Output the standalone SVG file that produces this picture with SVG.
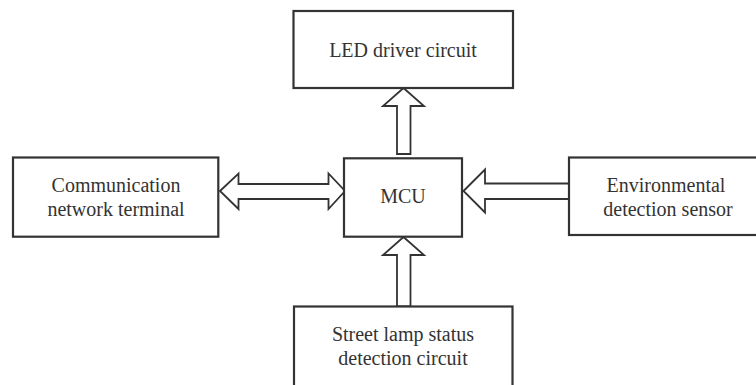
<svg xmlns="http://www.w3.org/2000/svg" width="756" height="385" viewBox="0 0 756 385">
<style>
.box{fill:#fff;stroke:#333;stroke-width:2.2}
.arr{fill:#fff;stroke:#333;stroke-width:1.8;stroke-linejoin:miter}
.t{font-family:"Liberation Serif","Times New Roman",serif;font-size:20px;fill:#333;text-anchor:middle}
</style>
<rect width="756" height="385" fill="#fff"/>
<g id="connectors">
<polygon class="arr" points="403.5,88 424,106 410.5,106 410.5,154 397,154 397,106 383,106"/>
<polygon class="arr" points="403.5,237 424,255 410.5,255 410.5,306.5 397,306.5 397,255 383,255"/>
<polygon class="arr" points="220,191 238.5,173.5 238.5,184 328.5,184 328.5,173.5 345,191 328.5,209 328.5,199 238.5,199 238.5,209"/>
<polygon class="arr" points="463.5,191 485,169.5 485,183.5 569,183.5 569,199 485,199 485,212.5"/>
</g>
<g id="led">
<rect class="box" x="293.5" y="11" width="219.5" height="77"/>
<text class="t" x="403" y="56.5">LED driver circuit</text>
</g>
<g id="mcu">
<rect class="box" x="344" y="158.3" width="118" height="78.4"/>
<text class="t" x="403" y="203">MCU</text>
</g>
<g id="comm">
<rect class="box" x="13" y="157.5" width="205.3" height="79.2"/>
<text class="t" x="116" y="192">Communication</text>
<text class="t" x="116" y="216">network terminal</text>
</g>
<g id="env">
<rect class="box" x="569" y="157.5" width="200" height="77.5"/>
<text class="t" x="666" y="192">Environmental</text>
<text class="t" x="668" y="216">detection sensor</text>
</g>
<g id="street">
<rect class="box" x="294" y="306.5" width="218.5" height="100"/>
<text class="t" x="403" y="341">Street lamp status</text>
<text class="t" x="403" y="365">detection circuit</text>
</g>
</svg>
